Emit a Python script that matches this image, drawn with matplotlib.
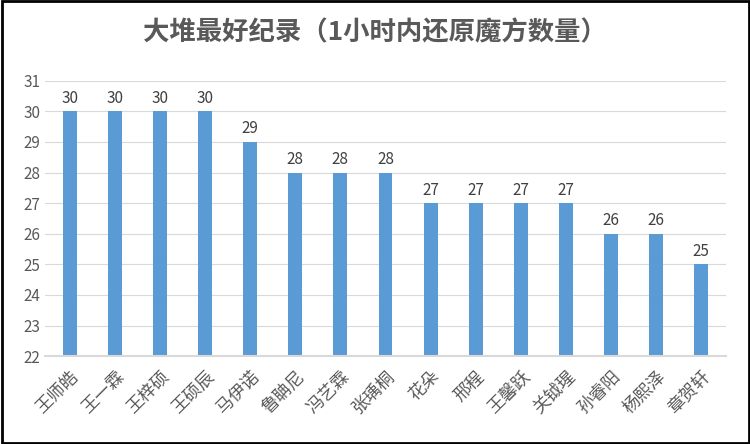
import matplotlib.pyplot as plt

plt.rcParams["font.family"] = "Noto Sans CJK SC"

names = ["王师皓", "王一霖", "王梓硕", "王硕辰", "马伊诺", "鲁聃尼", "冯艺霖", "张瑀桐",
         "花朵", "邢程", "王馨跃", "关钺瑆", "孙睿阳", "杨熙泽", "章贺轩"]
records = [30, 30, 30, 30, 29, 28, 28, 28, 27, 27, 27, 27, 26, 26, 25]

fig = plt.figure(figsize=(7.5, 4.44), dpi=100)
ax = fig.add_axes([0.06, 0.198, 0.908, 0.62])
bars = ax.bar(range(len(names)), records, width=0.31, color="#5b9bd5", zorder=2)
for i, v in enumerate(records):
    ax.text(i, v + 0.15, str(v), ha="center", va="bottom", fontsize=11, color="#404040")

ax.set_ylim(22, 31)
ax.set_yticks(range(22, 32))
ax.set_xlim(-0.55, len(names) - 0.45)
ax.set_xticks(range(len(names)))
ax.set_xticklabels(names, rotation=45, ha="right", rotation_mode="anchor",
                   fontsize=12.5, color="#595959")
ax.tick_params(axis="y", labelsize=11, labelcolor="#595959", length=0)
ax.tick_params(axis="x", length=0, pad=8)
ax.grid(axis="y", color="#d9d9d9", linewidth=0.8, zorder=0)
for s in ["top", "right", "left"]:
    ax.spines[s].set_visible(False)
ax.spines["bottom"].set_color("#d9d9d9")
ax.spines["bottom"].set_linewidth(1.5)

fig.text(0.5, 0.925, "大堆最好纪录（1小时内还原魔方数量）", ha="center", va="center",
         fontsize=19, fontweight="bold", color="#595959", family="Noto Sans CJK SC")
fig.patches.append(plt.Rectangle((0.002, 0.002), 0.996, 0.996, transform=fig.transFigure,
                                 fill=False, edgecolor="black", linewidth=2))
fig.savefig("out.png", dpi=100)
